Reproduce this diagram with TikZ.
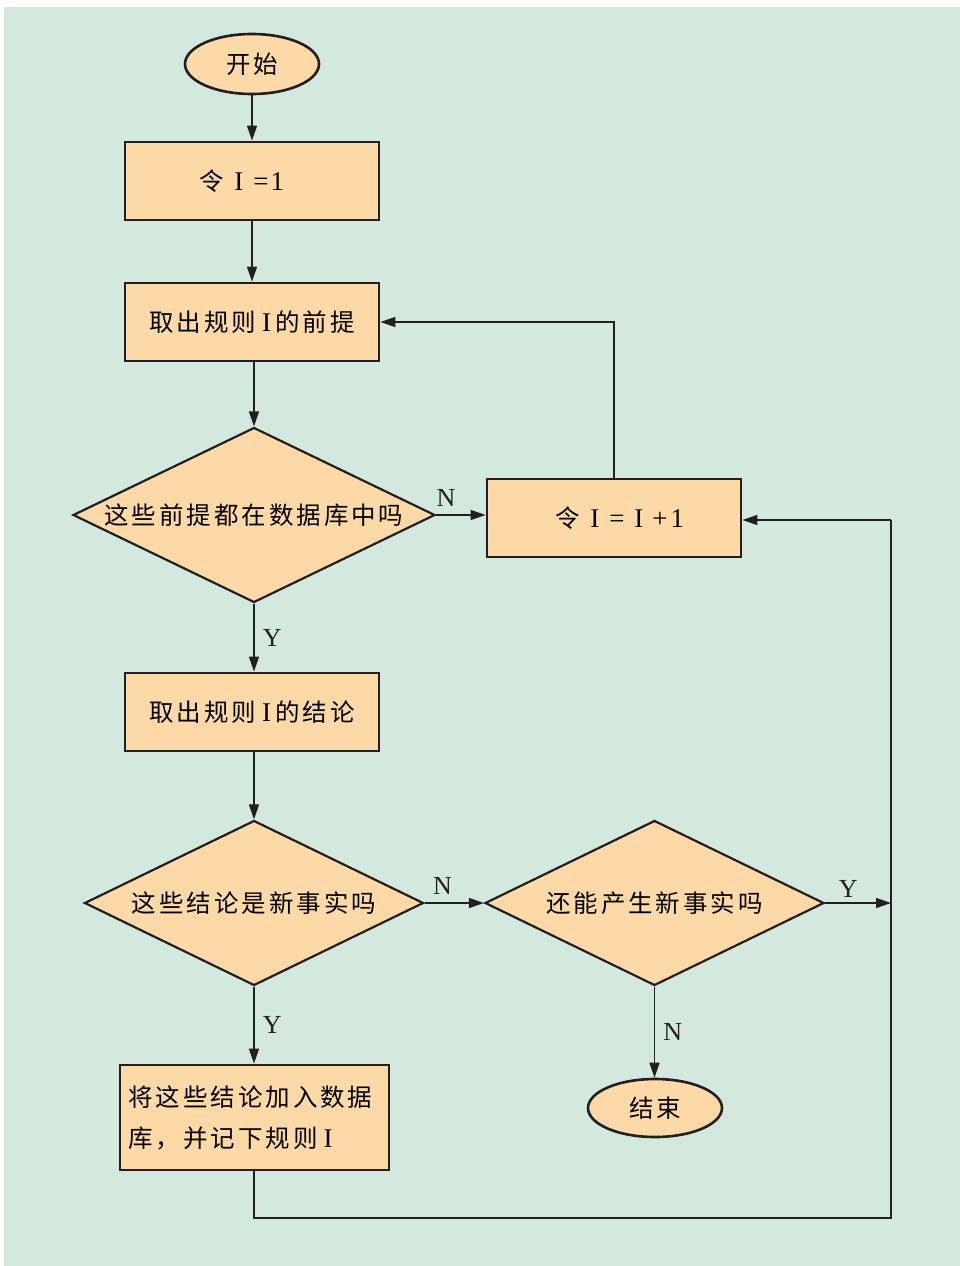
\documentclass[tikz,border=0pt]{standalone}
\usepackage{fontspec}
\usetikzlibrary{shapes.geometric,arrows.meta}
\newfontfamily\cjk[LetterSpace=12]{Noto Sans CJK SC}
\newfontfamily\lat{Liberation Serif}
\definecolor{bg}{HTML}{D3E9DD}
\definecolor{boxfill}{HTML}{FDD9A8}
\definecolor{ink}{HTML}{231F20}
\tikzset{
  txt/.style={font=\fontsize{24.5}{30}\selectfont\cjk},
  proc/.style={draw=ink, line width=2.8pt, fill=boxfill, rectangle, minimum width=254pt, minimum height=78pt, inner sep=0pt, txt},
  term/.style={draw=ink, line width=2.6pt, fill=boxfill, ellipse, inner sep=0pt, txt},
  decide/.style={draw=ink, line width=2.2pt, fill=boxfill, diamond, inner sep=0pt, txt},
  conn/.style={draw=ink, line width=1.5pt},
  arr/.style={conn, -{Triangle[length=15pt,width=10pt]}},
  lab/.style={font=\fontsize{26}{30}\selectfont\lat, text=ink, inner sep=0pt}
}
\newcommand{\LT}[1]{{\lat\fontsize{27}{30}\selectfont #1}}
\begin{document}
\begin{tikzpicture}[x=1pt,y=-1pt]
\useasboundingbox (0,0) rectangle (960,1266);
\fill[white] (0,0) rectangle (960,1266);
\fill[bg] (4,7) rectangle (960,1266);

\node[term, minimum width=134pt, minimum height=60pt] (start) at (252,64) {开始};
\node[proc] (b1) at (252,181) {\hspace{-20pt}令\hspace{10pt}\LT{I}\hspace{10pt}\LT{=}\hspace{2pt}\LT{1}};
\node[proc] (b2) at (252,322) {取出规则\hspace{6pt}\LT{I}\hspace{4pt}的前提};
\node[decide, minimum width=362pt, minimum height=175pt, aspect=2.07] (d1) at (254,515) {这些前提都在数据库中吗};
\node[proc] (inc) at (614,518) {\hspace{12pt}令\hspace{10pt}\LT{I}\hspace{10pt}\LT{=}\hspace{10pt}\LT{I}\hspace{9pt}\LT{+}\hspace{3pt}\LT{1}};
\node[proc] (b3) at (252,712) {取出规则\hspace{6pt}\LT{I}\hspace{4pt}的结论};
\node[decide, minimum width=339pt, minimum height=165pt, aspect=2.05] (d2) at (254,903) {这些结论是新事实吗};
\node[decide, minimum width=339pt, minimum height=165pt, aspect=2.05] (d3) at (654.5,903) {还能产生新事实吗};
\node[proc, minimum width=269pt, minimum height=105pt, align=left, text width=252pt, font=\fontsize{24.5}{41}\selectfont\cjk] (b4) at (254.5,1117.5) {将这些结论加入数据\\库，并记下规则\hspace{6pt}\LT{I}};
\node[term, minimum width=134pt, minimum height=58pt] (end) at (655,1108) {结束};

\coordinate (rt) at (891,903);
\coordinate (bl) at (254,1218);
\coordinate (br) at (891,1218);
\coordinate (tr) at (891,520);

\draw[arr] (start.south) -- (start.south |- b1.north);
\draw[arr] (b1.south) -- (b1.south |- b2.north);
\draw[arr] (b2.south -| d1.north) -- (d1.north);
\draw[arr] (d1.east) -- (d1.east -| inc.west) node[lab, pos=0.2, above=8pt] (n1) {N};
\draw[arr] (inc.north) |- (b2.east);
\draw[arr] (d1.south) -- (d1.south |- b3.north) node[lab, midway, right=8pt] (y1) {Y};
\draw[arr] (b3.south -| d2.north) -- (d2.north);
\draw[arr] (d2.east) -- (d3.west) node[lab, pos=0.3, above=8pt] (n2) {N};
\draw[arr] (d3.east) -- (rt) node[lab, pos=0.35, above=5pt] (y2) {Y};
\draw[arr] (d3.south) -- (d3.south |- end.north) node[lab, midway, right=8pt] (n3) {N};
\draw[arr] (d2.south) -- (d2.south |- b4.north) node[lab, midway, right=8pt] (y3) {Y};
\draw[conn] (b4.south -| bl) -- (bl) -- (br) -- (tr);
\draw[arr] (tr) -- (inc.east |- tr);
\end{tikzpicture}
\end{document}
